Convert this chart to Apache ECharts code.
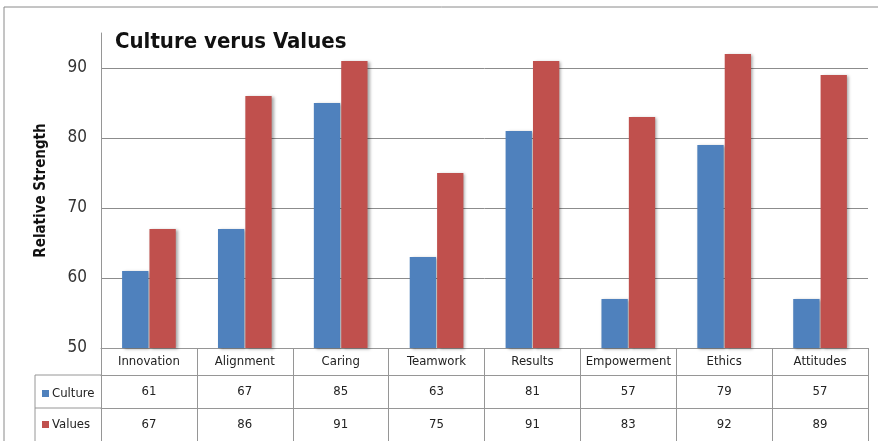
<!DOCTYPE html>
<html>
<head>
<meta charset="utf-8">
<title>Culture verus Values</title>
<script src="https://cdn.jsdelivr.net/npm/echarts@6/dist/echarts.min.js"></script>
<style>
  html, body { margin: 0; padding: 0; background: #fff; }
  #chart { width: 878px; height: 441px; }
</style>
</head>
<body>
<div id="chart"></div>
<script>
let categories = ['Innovation', 'Alignment', 'Caring', 'Teamwork', 'Results', 'Empowerment', 'Ethics', 'Attitudes'];
let cultureVals = [61, 67, 85, 63, 81, 57, 79, 57];
let valuesVals = [67, 86, 91, 75, 91, 83, 92, 89];
let yTicks = [50, 60, 70, 80, 90];

let font = "'Liberation Sans Narrow', 'DejaVu Sans Condensed', 'Noto Sans', sans-serif";
let lineColor = '#969696';

// 表格行：每一行是一条偏移的类目轴
function tableAxis(data, offset, tickLen, margin) {
	return {
		type: 'category',
		position: 'bottom',
		offset: offset,
		data: data,
		axisLine: {show: true, lineStyle: {color: lineColor, width: 1}},
		axisTick: {show: true, alignWithLabel: false, length: tickLen, lineStyle: {color: lineColor}},
		axisLabel: {margin: margin, fontFamily: font, fontSize: 13, color: '#222', interval: 0}
	};
}

// 网格线：只画刻度 50-90，顶端 95 不画
let gridColors = yTicks.map(function() { return '#8c8c8c'; }).concat(['rgba(0,0,0,0)']);

let myChart = echarts.init(document.getElementById('chart'));
let option = {
	animation: false,
	title: {
		text: 'Culture verus Values',
		left: 110,
		top: 26,
		textStyle: {fontFamily: font, fontSize: 22, fontWeight: 'bold', color: '#111'}
	},
	legend: {
		orient: 'vertical',
		left: 37,
		top: 382,
		itemGap: 18,
		itemWidth: 7,
		itemHeight: 7,
		icon: 'rect',
		data: ['Culture', 'Values'],
		textStyle: {fontFamily: font, fontSize: 13, color: '#222', padding: [0, 0, 0, -2]}
	},
	grid: {left: 101, right: 10, top: 33, bottom: 93, containLabel: false},
	xAxis: [
		tableAxis(categories, 0, 27, 7),
		tableAxis(cultureVals.map(String), 27, 33, 10),
		tableAxis(valuesVals.map(String), 60, 33, 10)
	],
	yAxis: {
		type: 'value',
		min: yTicks[0],
		max: 95,
		interval: 10,
		name: 'Relative Strength',
		nameLocation: 'middle',
		nameGap: 52,
		nameTextStyle: {fontFamily: font, fontSize: 15, fontWeight: 'bold', color: '#111'},
		axisLine: {show: true, lineStyle: {color: lineColor}},
		axisTick: {show: false},
		axisLabel: {
			fontFamily: font, fontSize: 17, color: '#333', margin: 14,
			formatter: function(v) { return yTicks.indexOf(v) >= 0 ? String(v) : ''; }
		},
		splitLine: {lineStyle: {color: gridColors, width: 1}}
	},
	series: [{
		name: 'Culture',
		type: 'bar',
		data: cultureVals,
		barGap: '4%',
		barCategoryGap: '44%',
		itemStyle: {color: '#4F81BD', shadowColor: 'rgba(0,0,0,0.35)', shadowBlur: 3, shadowOffsetX: 2, shadowOffsetY: 1}
	}, {
		name: 'Values',
		type: 'bar',
		data: valuesVals,
		itemStyle: {color: '#C0504D', shadowColor: 'rgba(0,0,0,0.35)', shadowBlur: 3, shadowOffsetX: 2, shadowOffsetY: 1}
	}],
	graphic: [
		{type: 'rect', shape: {x: 4, y: 7, width: 900, height: 500}, style: {fill: 'none', stroke: '#8a8a8a', lineWidth: 1}, silent: true},
		{type: 'line', shape: {x1: 35, y1: 375, x2: 101, y2: 375}, style: {stroke: lineColor, lineWidth: 1}},
		{type: 'line', shape: {x1: 35, y1: 408, x2: 101, y2: 408}, style: {stroke: lineColor, lineWidth: 1}},
		{type: 'line', shape: {x1: 35, y1: 375, x2: 35, y2: 441}, style: {stroke: lineColor, lineWidth: 1}}
	]
};
myChart.setOption(option);
</script>
</body>
</html>
